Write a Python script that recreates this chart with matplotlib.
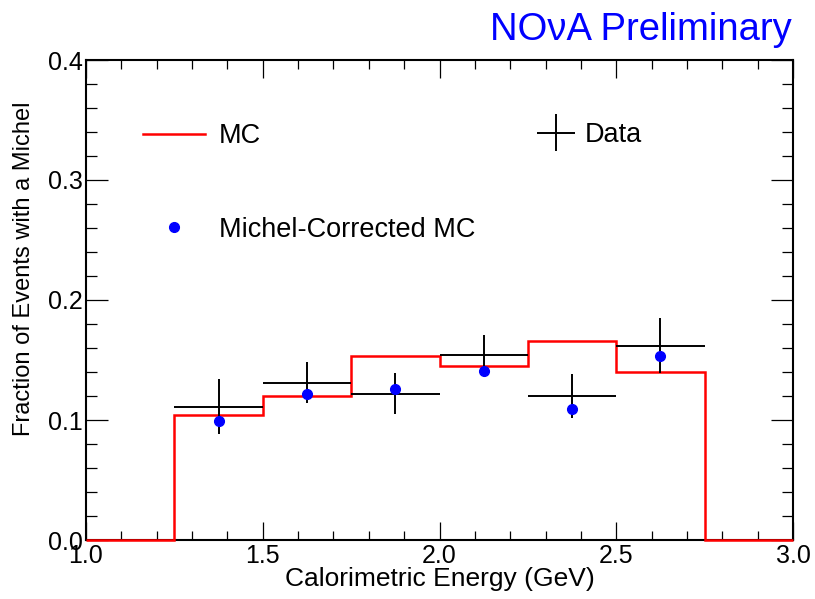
import matplotlib
matplotlib.use("Agg")
import matplotlib.pyplot as plt
import numpy as np
from matplotlib.lines import Line2D
from matplotlib.legend_handler import HandlerErrorbar
from matplotlib.ticker import MultipleLocator, FormatStrFormatter

plt.rcParams['font.family'] = ['Liberation Sans', 'DejaVu Sans']

# histogram bins (GeV)
bin_edges = [1.0, 1.25, 1.5, 1.75, 2.0, 2.25, 2.5, 2.75, 3.0]
mc_frac = [0.0, 0.104, 0.120, 0.153, 0.145, 0.166, 0.140, 0.0]

# data points, one per filled bin
data_x = [1.375, 1.625, 1.875, 2.125, 2.375, 2.625]
data_y = [0.111, 0.131, 0.122, 0.154, 0.120, 0.162]
data_err = [0.023, 0.017, 0.017, 0.017, 0.018, 0.023]
bin_halfwidth = 0.125

# Michel-corrected MC
corr_y = [0.0995, 0.122, 0.126, 0.141, 0.109, 0.153]

fig = plt.figure(figsize=(8.15, 5.99), dpi=100)
ax = fig.add_axes([86 / 815, 59 / 599, 707 / 815, 480 / 599])

ax.stairs(mc_frac, bin_edges, color='red', lw=1.8, zorder=3, clip_on=False)
eb = ax.errorbar(data_x, data_y, xerr=bin_halfwidth, yerr=data_err, fmt='none',
                 ecolor='black', elinewidth=1.4, capsize=0, zorder=4)
ax.plot(data_x, corr_y, 'o', color='blue', ms=7, zorder=5)

ax.set_xlim(1.0, 3.0)
ax.set_ylim(0.0, 0.4)
ax.xaxis.set_major_locator(MultipleLocator(0.5))
ax.xaxis.set_minor_locator(MultipleLocator(0.1))
ax.yaxis.set_major_locator(MultipleLocator(0.1))
ax.yaxis.set_minor_locator(MultipleLocator(0.02))
ax.xaxis.set_major_formatter(FormatStrFormatter('%.1f'))
ax.yaxis.set_major_formatter(FormatStrFormatter('%.1f'))
ax.tick_params(which='both', direction='in', top=True, right=True, width=0.9)
ax.tick_params(axis='x', which='major', length=13, labelsize=18, pad=3)
ax.tick_params(axis='x', which='minor', length=6.5)
ax.tick_params(axis='y', which='major', length=16, labelsize=18, pad=2)
ax.tick_params(axis='y', which='minor', length=8)
for s in ax.spines.values():
    s.set_linewidth(1.5)

ax.set_xlabel('Calorimetric Energy (GeV)', fontsize=19, labelpad=-1)
fig.text(13 / 815, 1 - 102 / 599, 'Fraction of Events with a Michel',
         rotation=90, ha='left', va='top', fontsize=17)

fig.text(792 / 815, 1 - 40 / 599, 'NO\u03bdA Preliminary', color='blue',
         ha='right', va='baseline', fontsize=27.5)

# legends
h_mc = Line2D([], [], color='red', lw=1.8)
h_corr = Line2D([], [], marker='o', ls='none', color='blue', ms=7)
leg1 = ax.legend([h_mc, h_corr], ['MC', 'Michel-Corrected MC'],
                 loc='upper left', bbox_to_anchor=((143 - 86) / 707, (540 - 123) / 480),
                 frameon=False, fontsize=19.5, borderpad=0, borderaxespad=0,
                 handlelength=2.3, handletextpad=0.5, labelspacing=2.5)
ax.add_artist(leg1)
ax.legend([eb], ['Data'], loc='center left',
          bbox_to_anchor=((537 - 86) / 707, (540 - 135) / 480),
          frameon=False, fontsize=19.5, borderpad=0, borderaxespad=0,
          handlelength=1.4, handletextpad=0.35,
          handler_map={type(eb): HandlerErrorbar(xerr_size=0.7)})

fig.savefig('out.png', dpi=100)
